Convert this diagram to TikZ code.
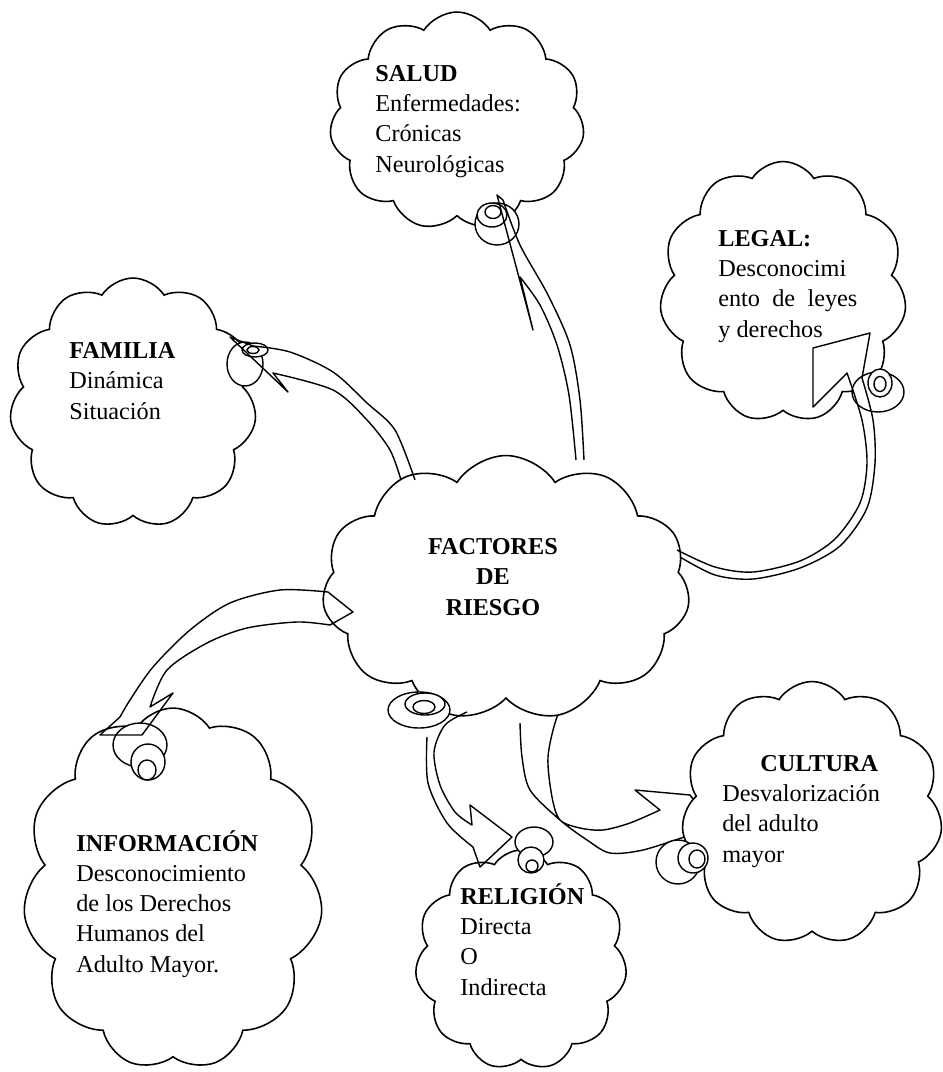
\documentclass[tikz,border=0pt]{standalone}
\usepackage{fontspec}
\setmainfont{Liberation Serif}
\usetikzlibrary{shapes.symbols,shapes.geometric}

\begin{document}
\begin{tikzpicture}[x=0.02cm,y=-0.02cm,
nube/.style={cloud,cloud puffs=11,cloud puff arc=115,cloud ignores aspect,draw,fill=white,line width=0.9pt,inner sep=0pt},
burbuja/.style={ellipse,draw,fill=white,line width=0.8pt,inner sep=0pt},
txt/.style={anchor=base west,align=left,inner sep=0pt,font=\fontsize{13.8}{17.1}\selectfont},
flecha/.style={draw,line width=0.8pt,line join=round}
]
\useasboundingbox (0,0) rectangle (943,1072);
% flecha hacia CULTURA (queda bajo las nubes)
\draw[flecha] plot[smooth] coordinates {(520,723) (522,757) (530,790) (560,820) (587,840) (610,853) (643,850) (690,835)} -- (705,815) -- (690,795) -- (635,790) -- plot[smooth] coordinates {(660,810) (630,823) (603,830) (580,828) (560,820) (552,797) (548,757) (557,717) (572,692)};
% nubes
\node[nube,minimum width=5.1cm,minimum height=4.36cm] (salud) at (457,121) {};
\node[nube,minimum width=4.94cm,minimum height=5.22cm] (legal) at (783,292) {};
\node[nube,minimum width=4.94cm,minimum height=5cm] (familia) at (133,403) {};
\node[nube,minimum width=7.36cm,minimum height=5.3cm] (factores) at (506,588) {};
\node[nube,minimum width=6cm,minimum height=7.24cm] (informacion) at (173,889) {};
\node[nube,minimum width=4.24cm,minimum height=4.4cm] (religion) at (521,960) {};
\node[nube,minimum width=5.22cm,minimum height=5.26cm] (cultura) at (812,813) {};
% burbujas
\node[burbuja,minimum width=0.88cm,minimum height=0.84cm] (salB1) at (497,224) {};
\node[burbuja,minimum width=0.6cm,minimum height=0.48cm] (salB2) at (492,215) {};
\node[burbuja,minimum width=0.32cm,minimum height=0.26cm] (salB3) at (493,212) {};
\node[burbuja,minimum width=1.04cm,minimum height=0.8cm] (legB1) at (878,392) {};
\node[burbuja,minimum width=0.48cm,minimum height=0.56cm] (legB2) at (880,383) {};
\node[burbuja,minimum width=0.24cm,minimum height=0.3cm] (legB3) at (880,384) {};
\node[burbuja,minimum width=0.72cm,minimum height=0.88cm] (famB1) at (245,364) {};
\node[burbuja,minimum width=0.52cm,minimum height=0.28cm] (famB2) at (255,350) {};
\node[burbuja,minimum width=0.24cm,minimum height=0.14cm] (famB3) at (253,350) {};
\node[burbuja,minimum width=1.24cm,minimum height=0.72cm] (facB1) at (419,710) {};
\node[burbuja,minimum width=0.8cm,minimum height=0.44cm] (facB2) at (425,704) {};
\node[burbuja,minimum width=0.44cm,minimum height=0.26cm] (facB3) at (424,707) {};
\node[burbuja,minimum width=1.08cm,minimum height=0.88cm] (infB1) at (140,745) {};
\node[burbuja,minimum width=0.68cm,minimum height=0.72cm] (infB2) at (148,762) {};
\node[burbuja,minimum width=0.36cm,minimum height=0.4cm] (infB3) at (147,770) {};
\node[burbuja,minimum width=0.76cm,minimum height=0.6cm] (relB1) at (534,842) {};
\node[burbuja,minimum width=0.52cm,minimum height=0.52cm] (relB2) at (531,860) {};
\node[burbuja,minimum width=0.24cm,minimum height=0.24cm] (relB3) at (532,866) {};
\node[burbuja,minimum width=0.88cm,minimum height=0.88cm] (culB1) at (678,862) {};
\node[burbuja,minimum width=0.6cm,minimum height=0.6cm] (culB2) at (693,858) {};
\node[burbuja,minimum width=0.32cm,minimum height=0.36cm] (culB3) at (697,859) {};
% flechas
\draw[flecha] plot[smooth] coordinates {(576,460) (569,395) (557,345) (540,305) (520,277)} -- (533,330) -- (497,195) -- plot[smooth] coordinates {(503,200) (520,245) (548,295) (570,345) (580,400) (584,460)};
\draw[flecha] plot[smooth] coordinates {(415,480) (395,430) (367,403) (333,372) (290,352) (253,346)} -- (230,337) -- (288,392) -- (273,373) -- plot[smooth] coordinates {(273,373) (333,390) (367,420) (390,450) (401,480)};
\draw[flecha] plot[smooth] coordinates {(328,592) (280,590) (230,603) (190,630) (153,667) (130,700) (120,717)} -- (100,735) -- (142,735) -- (173,693) -- (150,707) -- plot[smooth] coordinates {(150,707) (167,670) (207,643) (247,628) (297,622) (330,625)} -- (353,612) -- cycle;
\draw[flecha] plot[smooth] coordinates {(427,737) (428,783) (447,823) (473,847)} -- (480,867) -- (512,837) -- (470,805) -- plot[smooth] coordinates {(472,825) (455,812) (440,785) (434,752) (445,725) (467,712)};
\draw[flecha] plot[smooth] coordinates {(677,550) (715,567) (753,572) (800,561) (835,539) (860,503) (867,463) (862,420) (847,373)} -- (813,407) -- (813,348) -- (870,333) -- plot[smooth] coordinates {(862,378) (873,420) (875,463) (867,508) (840,546) (800,568) (753,579) (715,575) (680,557)};
% textos (base = ultima linea)
\node[txt] (tsalud) at (375,172) {\textbf{SALUD}\\Enfermedades:\\Crónicas\\Neurológicas};
\node[txt] (tlegal) at (718,337) {\textbf{LEGAL:}\\Desconocimi\\\makebox[2.78cm][s]{ento de leyes}\\y derechos};
\node[txt] (tfamilia) at (69,419) {\textbf{FAMILIA}\\Dinámica\\Situación};
\node[txt,anchor=base,align=center,font=\bfseries\fontsize{13.8}{17.1}\selectfont] (tfactores) at (493,615) {FACTORES\\DE\\RIESGO};
\node[txt] (tinfo) at (76,972) {\textbf{INFORMACIÓN}\\Desconocimiento\\de los Derechos\\Humanos del\\Adulto Mayor.};
\node[txt] (treligion) at (460,995) {\textbf{RELIGIÓN}\\Directa\\O\\Indirecta};
\node[txt] (tcultura) at (722,862) {\hspace*{0.76cm}\textbf{CULTURA}\\Desvalorización\\del adulto\\mayor};
\end{tikzpicture}
\end{document}
